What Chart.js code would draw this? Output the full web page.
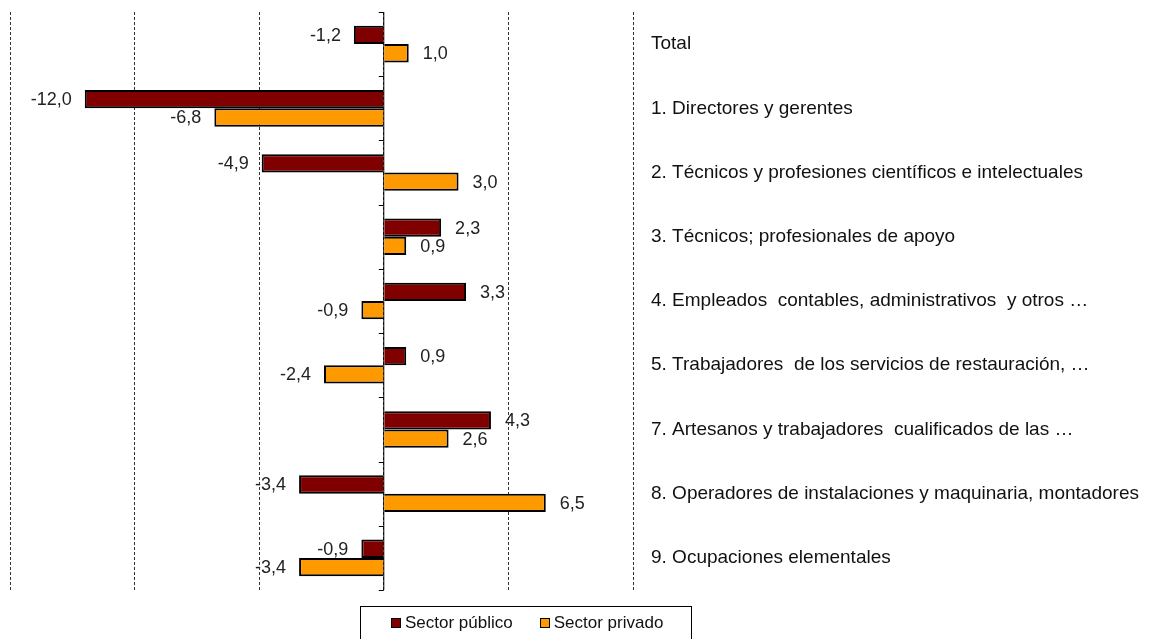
<!DOCTYPE html>
<html lang="es">
<head>
    <meta charset="UTF-8">
    <title>Variación por ocupación</title>
    <script src="https://cdn.jsdelivr.net/npm/chart.js"></script>
    <style>
        html, body { margin: 0; padding: 0; background: #fff; }
        #wrap { width: 1154px; height: 639px; position: relative; }
        #leyenda {
            position: absolute; left: 360px; top: 606px; width: 332px; height: 40px;
            border: 1px solid #000; box-sizing: border-box;
            font: 17px Arial, "Liberation Sans", sans-serif; color: #111;
            padding-top: 6px; padding-left: 30px; white-space: nowrap;
        }
        #leyenda span.item { display: inline-block; margin-right: 27px; }
        #leyenda i {
            display: inline-block; width: 8px; height: 8px; border: 1px solid #000;
            margin-right: 4px; vertical-align: 0px;
        }
    </style>
</head>
<body>
<div id="wrap">
    <canvas id="grafico"></canvas>
    <div id="leyenda"></div>
</div>
<script>
    const categorias = [
        'Total',
        '1. Directores y gerentes',
        '2. Técnicos y profesiones científicos e intelectuales',
        '3. Técnicos; profesionales de apoyo',
        '4. Empleados  contables, administrativos  y otros …',
        '5. Trabajadores  de los servicios de restauración, …',
        '7. Artesanos y trabajadores  cualificados de las …',
        '8. Operadores de instalaciones y maquinaria, montadores',
        '9. Ocupaciones elementales'
    ];
    const sectorPublico = [-1.2, -12.0, -4.9, 2.3, 3.3, 0.9, 4.3, -3.4, -0.9];
    const sectorPrivado = [1.0, -6.8, 3.0, 0.9, -0.9, -2.4, 2.6, 6.5, -3.4];
    const nombresSeries = ['Sector público', 'Sector privado'];
    const coloresSeries = ['#800000', '#FF9900'];

    const fuente = 'Arial, "Liberation Sans", sans-serif';

    // etiquetas de valor al final de cada barra
    const etiquetasValor = {
        id: 'etiquetasValor',
        afterDatasetsDraw(chart) {
            const ctx = chart.ctx;
            ctx.save();
            ctx.font = '18px ' + fuente;
            ctx.fillStyle = '#222';
            ctx.textBaseline = 'middle';
            chart.data.datasets.forEach((ds, i) => {
                chart.getDatasetMeta(i).data.forEach((bar, j) => {
                    const v = ds.data[j];
                    const txt = v.toFixed(1).replace('.', ',');
                    if (v >= 0) {
                        ctx.textAlign = 'left';
                        ctx.fillText(txt, bar.x + 14, bar.y + 1);
                    } else {
                        ctx.textAlign = 'right';
                        ctx.fillText(txt, bar.x - 13, bar.y + 1);
                    }
                });
            });
            ctx.restore();
        }
    };

    // eje vertical en cero con marcas entre categorías
    const ejeCero = {
        id: 'ejeCero',
        beforeDatasetsDraw(chart) {
            const ctx = chart.ctx;
            const x0 = chart.scales.x.getPixelForValue(0);
            const y = chart.scales.y;
            const area = chart.chartArea;
            ctx.save();
            ctx.strokeStyle = '#000';
            ctx.lineWidth = 1;
            ctx.beginPath();
            ctx.moveTo(x0, area.top);
            ctx.lineTo(x0, area.bottom);
            for (let i = 0; i <= categorias.length; i++) {
                const py = Math.round(y.getPixelForValue(i - 0.5)) + 0.5;
                ctx.moveTo(x0 - 5, py);
                ctx.lineTo(x0, py);
            }
            ctx.stroke();
            ctx.restore();
        }
    };

    const grafico = new Chart(document.getElementById('grafico'), {
        type: 'bar',
        data: {
            labels: categorias,
            datasets: [
                {
                    label: nombresSeries[0],
                    data: sectorPublico,
                    backgroundColor: coloresSeries[0],
                    borderColor: '#000',
                    borderWidth: 2,
                    barPercentage: 1,
                    categoryPercentage: 0.57
                },
                {
                    label: nombresSeries[1],
                    data: sectorPrivado,
                    backgroundColor: coloresSeries[1],
                    borderColor: '#000',
                    borderWidth: 2,
                    barPercentage: 1,
                    categoryPercentage: 0.57
                }
            ]
        },
        options: {
            indexAxis: 'y',
            responsive: true,
            maintainAspectRatio: false,
            animation: false,
            layout: { padding: { left: 10, top: 12, right: 0, bottom: 49 } },
            scales: {
                x: {
                    min: -15,
                    max: 10,
                    ticks: { display: false, stepSize: 5 },
                    grid: { color: '#333', lineWidth: 1, drawTicks: false },
                    border: { display: false, dash: [3, 2] },
                    afterFit(scale) { scale.height = 0; }
                },
                y: {
                    position: 'right',
                    grid: { display: false },
                    border: { display: false },
                    ticks: {
                        padding: 10,
                        color: '#111',
                        font: { family: fuente, size: 19 }
                    },
                    afterFit(scale) {
                        scale.width = 521;
                        scale.paddingTop = 0;
                        scale.paddingBottom = 0;
                    }
                }
            },
            plugins: {
                tooltip: { enabled: false },
                legend: { display: false }
            }
        },
        plugins: [ejeCero, etiquetasValor]
    });

    // leyenda en HTML a partir de los datasets
    const leyenda = document.getElementById('leyenda');
    grafico.data.datasets.forEach(ds => {
        const item = document.createElement('span');
        item.className = 'item';
        const caja = document.createElement('i');
        caja.style.background = ds.backgroundColor;
        item.appendChild(caja);
        item.appendChild(document.createTextNode(ds.label));
        leyenda.appendChild(item);
    });
</script>
</body>
</html>
